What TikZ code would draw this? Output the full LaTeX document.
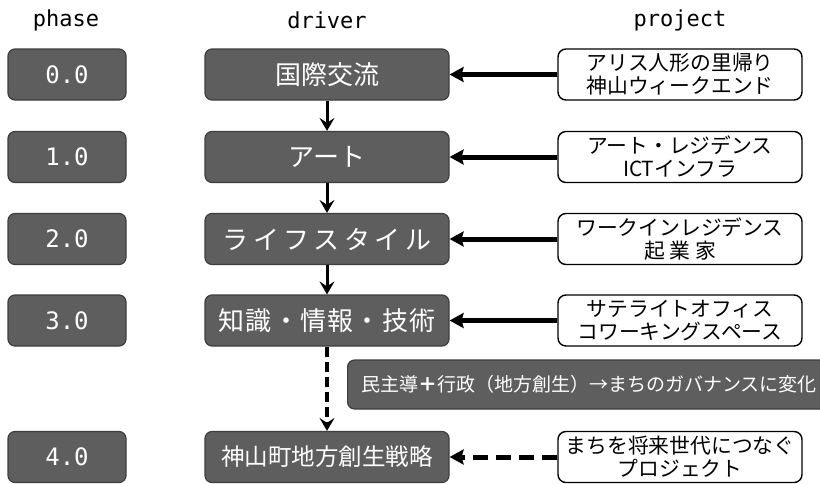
\documentclass[tikz,border=0pt]{standalone}
\usepackage{fontspec}
\setmainfont{Noto Sans CJK JP}
\setmonofont{DejaVu Sans Mono}
\usetikzlibrary{arrows.meta}
\definecolor{boxgray}{HTML}{5E5E5E}
\definecolor{boxedge}{HTML}{3E3E3E}
\tikzset{
  header/.style={font=\fontsize{22}{26}\selectfont\ttfamily, text=black, inner sep=0pt},
  phasebox/.style={draw=boxedge, line width=1.2pt, fill=boxgray, rounded corners=7pt,
    minimum width=118pt, minimum height=51pt, text=white, inner sep=0pt,
    font=\fontsize{24}{28}\selectfont\ttfamily},
  driverbox/.style={draw=boxedge, line width=1.2pt, fill=boxgray, rounded corners=7pt,
    minimum width=244pt, minimum height=51pt, text=white, inner sep=0pt,
    font=\fontsize{26}{30}\selectfont},
  projbox/.style={draw=black, line width=1.4pt, fill=white, rounded corners=8pt,
    minimum width=244pt, minimum height=51pt, text=black, inner sep=0pt, align=center,
    font=\fontsize{20.8}{23}\selectfont},
  hline/.style={line width=5pt, -{Stealth[length=14pt,width=15pt,inset=2pt]}},
  vline/.style={line width=3pt, -{Stealth[length=13pt,width=15pt,inset=5pt]}},
}
\begin{document}
\begin{tikzpicture}[x=1pt,y=-1pt]
\useasboundingbox (0,0) rectangle (820,483);
\fill[white] (0,0) rectangle (820,483);
% headers
\node[header] (hphase) at (66,20) {phase};
\node[header] (hdriver) at (327,20) {driver};
\node[header] (hproject) at (680,20) {project};
% phase boxes
\node[phasebox] (p0) at (67,74.5) {0.0};
\node[phasebox] (p1) at (67,157) {1.0};
\node[phasebox] (p2) at (67,239) {2.0};
\node[phasebox] (p3) at (67,320.5) {3.0};
\node[phasebox] (p4) at (67,457) {4.0};
% driver boxes
\node[driverbox] (d0) at (327,74.5) {国際交流};
\node[driverbox] (d1) at (327,157) {アート};
\node[driverbox] (d2) at (327,239) {\addfontfeature{LetterSpace=17}ライフスタイル};
\node[driverbox] (d3) at (327,320.5) {\addfontfeature{LetterSpace=5}知識・情報・技術};
\node[driverbox] (d4) at (327,457) {\fontsize{23.5}{28}\selectfont 神山町地方創生戦略};
% project boxes
\node[projbox] (q0) at (680,74.5) {アリス人形の里帰り\\神山ウィークエンド};
\node[projbox] (q1) at (680,157) {アート・レジデンス\\ICTインフラ};
\node[projbox] (q2) at (680,239) {ワークインレジデンス\\起 業 家};
\node[projbox] (q3) at (680,320.5) {サテライトオフィス\\コワーキングスペース};
\node[projbox] (q4) at (680,457) {まちを将来世代につなぐ\\プロジェクト};
% wide box
\begin{scope}
\clip (0,0) rectangle (820,483);
\node[draw=boxedge, line width=1.2pt, fill=boxgray, rounded corners=7pt,
  minimum width=490pt, minimum height=49pt, inner sep=0pt, anchor=west] (gov) at (347,384.5) {};
\end{scope}
\node[text=white, font=\fontsize{19}{22}\selectfont, anchor=west, inner sep=0pt] (govtext) at (361,384.5) {民主導{\bfseries ＋}行政（地方創生）→まちのガバナンスに変化};
% vertical arrows
\draw[vline] (d0.south) -- (d1.north);
\draw[vline] (d1.south) -- (d2.north);
\draw[vline] (d2.south) -- (d3.north);
\draw[vline, dash pattern=on 10pt off 5pt, line width=3.5pt] (d3.south) -- (d4.north);
% horizontal arrows
\draw[hline] (q0.west) -- (d0.east);
\draw[hline] (q1.west) -- (d1.east);
\draw[hline] (q2.west) -- (d2.east);
\draw[hline] (q3.west) -- (d3.east);
\draw[hline, dash pattern=on 15pt off 8pt] (q4.west) -- (d4.east);
\end{tikzpicture}
\end{document}
